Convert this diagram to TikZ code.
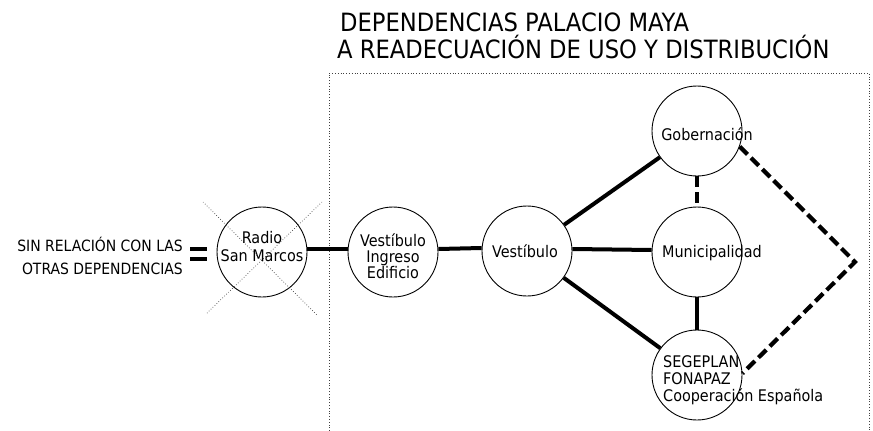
\documentclass[tikz,border=0pt]{standalone}
\usepackage{fontspec}
\setmainfont{DejaVu Sans Condensed}
\usetikzlibrary{calc}
\begin{document}
\begin{tikzpicture}[x=1pt,y=-1pt,
  room/.style={circle,draw,line width=0.9pt,minimum size=90pt,inner sep=0pt},
  link/.style={line width=4pt},
  dlink/.style={line width=4.2pt,dash pattern=on 11pt off 5pt},
  lbl/.style={font=\fontsize{16}{17}\selectfont,inner sep=0pt},
  side/.style={font=\fontsize{15.5}{17}\selectfont,inner sep=0pt},
  ttl/.style={font=\fontsize{25.2}{27}\selectfont,inner sep=0pt},
  frame/.style={dotted,line width=0.8pt,black!75},
  cross/.style={dotted,line width=0.7pt,black!75}]
\useasboundingbox (0,0) rectangle (873,431);
% frame
\draw[frame] (329,431) -- (329,73) -- (869,73) -- (869,431);
% title
\node[ttl,anchor=base west] (t1) at (340,31) {DEPENDENCIAS PALACIO MAYA};
\node[ttl,anchor=base west] (t2) at (337,58) {A READECUACIÓN DE USO Y DISTRIBUCIÓN};
% rooms
\node[room] (radio) at (262,252) {};
\node[room] (vie) at (393,252) {};
\node[room] (vest) at (527,251) {};
\node[room] (gob) at (697,131) {};
\node[room] (muni) at (697,252) {};
\node[room] (seg) at (697,375) {};
% cross over radio
\draw[cross] ($(radio)+(-59,-50)$) -- ($(radio)+(55,63)$);
\draw[cross] ($(radio)+(60,-50)$) -- ($(radio)+(-55,61)$);
% links
\draw[link] ([yshift=3pt]radio.east) -- ([yshift=3pt]vie.west);
\draw[link] ([yshift=3pt]vie.east) -- ([yshift=3pt]vest.west);
\draw[link] ([yshift=2pt]vest.east) -- ([yshift=2pt]muni.west);
\draw[link] (vest) -- (gob);
\draw[link] (vest) -- (seg);
\draw[link] (muni) -- (seg);
\draw[dlink] (gob) -- (muni);
\coordinate (tip) at (855,262);
\draw[dlink] (gob.-20) -- (tip) -- (seg.2);
% equals sign
\fill (190,246.5) rectangle (207,250.5);
\fill (190,256.5) rectangle (207,260.5);
% side text
\node[side,anchor=base east] (s1) at (183,251) {SIN RELACIÓN CON LAS};
\node[side,anchor=base east] (s2) at (183,274) {OTRAS DEPENDENCIAS};
% labels
\node[lbl,anchor=base] (l1) at (262,243) {Radio};
\node[lbl,anchor=base] (l2) at (262,261) {San Marcos};
\node[lbl,anchor=base] (l3) at (393,246) {Vestíbulo};
\node[lbl,anchor=base] (l4) at (393,262) {Ingreso};
\node[lbl,anchor=base] (l5) at (393,278) {Edificio};
\node[lbl,anchor=base] (l6) at (525,257) {Vestíbulo};
\node[lbl,anchor=base] (l7) at (707,140) {Gobernación};
\node[lbl,anchor=base] (l8) at (712,257) {Municipalidad};
\node[lbl,anchor=base west] (l9) at (663,367) {SEGEPLAN};
\node[lbl,anchor=base west] (l10) at (663,384) {FONAPAZ};
\node[lbl,anchor=base west] (l11) at (663,401) {Cooperación Española};
\end{tikzpicture}
\end{document}
